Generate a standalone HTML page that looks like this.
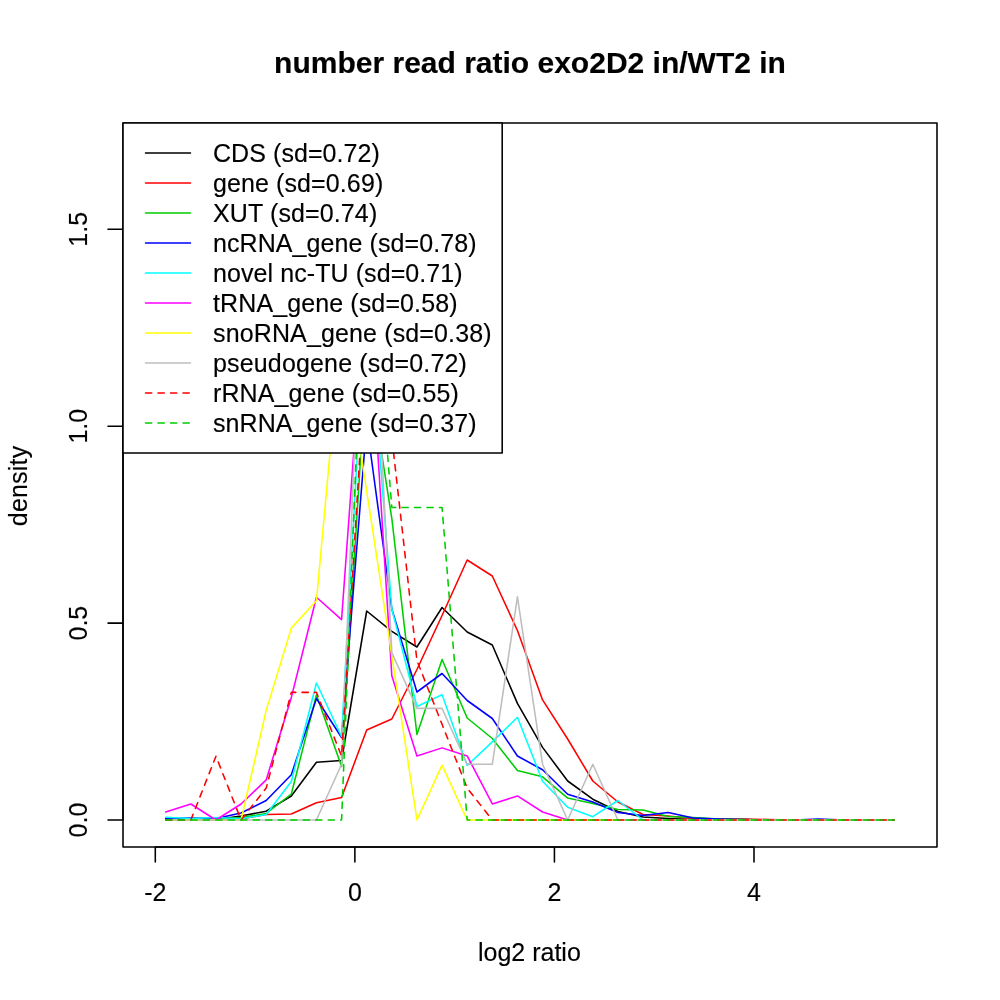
<!DOCTYPE html>
<html><head><meta charset="utf-8"><title>plot</title>
<style>html,body{margin:0;padding:0;background:#fff;}svg{display:block;will-change:transform;}text{font-family:"Liberation Sans",sans-serif;fill:#000;stroke:#000;stroke-width:0.15px;}</style>
</head><body>
<svg width="1000" height="1000" viewBox="0 0 1000 1000">
<rect x="0" y="0" width="1000" height="1000" fill="#ffffff"/>
<defs><clipPath id="pc"><rect x="123.0" y="123.0" width="814.0" height="724.0"/></clipPath></defs>
<g clip-path="url(#pc)" fill="none" stroke-width="1.56" stroke-linecap="round" stroke-linejoin="round">
<polyline points="165.71,819.50 190.83,819.50 215.96,819.50 241.08,816.00 266.20,811.20 291.33,796.00 316.45,762.20 341.57,760.50 366.69,611.00 391.82,631.30 416.94,647.00 442.06,607.50 467.19,632.00 492.31,645.00 517.43,703.40 542.56,747.40 567.68,781.00 592.80,799.20 617.92,811.50 643.05,817.00 668.17,818.50 693.29,819.50 718.42,820.00 743.54,820.00 768.66,820.00 793.79,820.00 818.91,820.00 844.03,820.00 869.15,820.00 894.28,820.00" stroke="#000000"/>
<polyline points="165.71,820.00 190.83,820.00 215.96,819.80 241.08,819.00 266.20,814.50 291.33,814.00 316.45,802.80 341.57,797.50 366.69,730.00 391.82,719.00 416.94,669.50 442.06,615.50 467.19,560.00 492.31,576.00 517.43,630.50 542.56,699.90 567.68,739.00 592.80,781.00 617.92,802.00 643.05,814.50 668.17,816.00 693.29,818.50 718.42,819.00 743.54,819.00 768.66,819.50 793.79,820.00 818.91,820.00 844.03,820.00 869.15,820.00 894.28,820.00" stroke="#FF0000"/>
<polyline points="165.71,819.50 190.83,819.50 215.96,819.50 241.08,817.50 266.20,813.50 291.33,794.00 316.45,695.00 341.57,766.50 366.69,358.00 391.82,518.50 416.94,734.50 442.06,659.50 467.19,718.00 492.31,738.50 517.43,770.50 542.56,776.80 567.68,798.10 592.80,803.40 617.92,809.50 643.05,810.00 668.17,816.50 693.29,817.50 718.42,819.00 743.54,819.50 768.66,820.00 793.79,820.00 818.91,820.00 844.03,820.00 869.15,820.00 894.28,820.00" stroke="#00CD00"/>
<polyline points="165.71,818.50 190.83,818.00 215.96,818.50 241.08,813.00 266.20,800.50 291.33,774.70 316.45,698.50 341.57,737.50 366.69,424.00 391.82,609.00 416.94,692.00 442.06,673.50 467.19,700.50 492.31,718.50 517.43,756.00 542.56,769.80 567.68,794.30 592.80,802.00 617.92,812.50 643.05,815.50 668.17,812.50 693.29,818.00 718.42,819.00 743.54,819.50 768.66,820.00 793.79,820.00 818.91,819.00 844.03,820.00 869.15,820.00 894.28,820.00" stroke="#0000FF"/>
<polyline points="165.71,817.20 190.83,818.50 215.96,817.50 241.08,818.80 266.20,814.50 291.33,781.50 316.45,683.00 341.57,736.50 366.69,286.00 391.82,609.00 416.94,706.50 442.06,694.80 467.19,765.50 492.31,741.90 517.43,717.30 542.56,781.30 567.68,807.30 592.80,816.70 617.92,800.50 643.05,820.00 668.17,820.00 693.29,820.00 718.42,820.00 743.54,820.00 768.66,820.00 793.79,820.00 818.91,820.00 844.03,820.00 869.15,820.00 894.28,820.00" stroke="#00FFFF"/>
<polyline points="165.71,811.99 190.83,803.97 215.96,820.00 241.08,803.97 266.20,779.93 291.33,697.40 316.45,597.24 341.57,619.67 366.69,275.12 391.82,675.77 416.94,755.90 442.06,747.88 467.19,755.90 492.31,803.97 517.43,795.96 542.56,811.99 567.68,820.00 592.80,820.00 617.92,820.00 643.05,820.00 668.17,820.00 693.29,820.00 718.42,820.00 743.54,820.00 768.66,820.00 793.79,820.00 818.91,820.00 844.03,820.00 869.15,820.00 894.28,820.00" stroke="#FF00FF"/>
<polyline points="165.71,820.00 190.83,820.00 215.96,820.00 241.08,820.00 266.20,710.36 291.33,628.13 316.45,600.72 341.57,326.62 366.69,491.08 391.82,655.54 416.94,820.00 442.06,765.18 467.19,820.00 492.31,820.00 517.43,820.00 542.56,820.00 567.68,820.00 592.80,820.00 617.92,820.00 643.05,820.00 668.17,820.00 693.29,820.00 718.42,820.00 743.54,820.00 768.66,820.00 793.79,820.00 818.91,820.00 844.03,820.00 869.15,820.00 894.28,820.00" stroke="#FFFF00"/>
<polyline points="165.71,820.00 190.83,820.00 215.96,820.00 241.08,820.00 266.20,820.00 291.33,820.00 316.45,820.00 341.57,764.20 366.69,150.40 391.82,652.60 416.94,708.40 442.06,708.40 467.19,764.20 492.31,764.20 517.43,596.80 542.56,764.20 567.68,820.00 592.80,764.20 617.92,820.00 643.05,820.00 668.17,820.00 693.29,820.00 718.42,820.00 743.54,820.00 768.66,820.00 793.79,820.00 818.91,820.00 844.03,820.00 869.15,820.00 894.28,820.00" stroke="#BEBEBE"/>
<polyline points="165.71,820.00 190.83,820.00 215.96,756.20 241.08,820.00 266.20,788.10 291.33,692.40 316.45,692.40 341.57,756.20 366.69,341.50 391.82,437.20 416.94,660.50 442.06,724.30 467.19,788.10 492.31,820.00 517.43,820.00 542.56,820.00 567.68,820.00 592.80,820.00 617.92,820.00 643.05,820.00 668.17,820.00 693.29,820.00 718.42,820.00 743.54,820.00 768.66,820.00 793.79,820.00 818.91,820.00 844.03,820.00 869.15,820.00 894.28,820.00" stroke="#FF0000" stroke-dasharray="6.25 6.25"/>
<polyline points="165.71,820.00 190.83,820.00 215.96,820.00 241.08,820.00 266.20,820.00 291.33,820.00 316.45,820.00 341.57,820.00 366.69,195.00 391.82,507.50 416.94,507.50 442.06,507.50 467.19,820.00 492.31,820.00 517.43,820.00 542.56,820.00 567.68,820.00 592.80,820.00 617.92,820.00 643.05,820.00 668.17,820.00 693.29,820.00 718.42,820.00 743.54,820.00 768.66,820.00 793.79,820.00 818.91,820.00 844.03,820.00 869.15,820.00 894.28,820.00" stroke="#00CD00" stroke-dasharray="6.25 6.25"/>
</g>
<g fill="none" stroke="#000" stroke-width="1.56" stroke-linecap="round" stroke-linejoin="round">
<rect x="123.0" y="123.0" width="814.0" height="724.0"/>
<path d="M155.3 847.0H754.0M155.3 847.0V862.0M354.87 847.0V862.0M554.43 847.0V862.0M754.0 847.0V862.0"/>
<path d="M123.0 820.0V229.3M123.0 820.0H108.0M123.0 623.1H108.0M123.0 426.2H108.0M123.0 229.3H108.0"/>
</g>
<text x="155.3" y="900.7" font-size="25" text-anchor="middle">-2</text>
<text x="354.87" y="900.7" font-size="25" text-anchor="middle">0</text>
<text x="554.43" y="900.7" font-size="25" text-anchor="middle">2</text>
<text x="754.0" y="900.7" font-size="25" text-anchor="middle">4</text>
<text transform="translate(87,820.0) rotate(-90)" font-size="25" text-anchor="middle">0.0</text>
<text transform="translate(87,623.1) rotate(-90)" font-size="25" text-anchor="middle">0.5</text>
<text transform="translate(87,426.2) rotate(-90)" font-size="25" text-anchor="middle">1.0</text>
<text transform="translate(87,229.3) rotate(-90)" font-size="25" text-anchor="middle">1.5</text>
<text x="530.0" y="72.7" font-size="30" font-weight="bold" text-anchor="middle">number read ratio exo2D2 in/WT2 in</text>
<text x="529.4" y="960.6" font-size="25" text-anchor="middle">log2 ratio</text>
<text transform="translate(27,486.0) rotate(-90)" font-size="25" text-anchor="middle" textLength="80.4" lengthAdjust="spacing">density</text>
<rect x="123.0" y="123.0" width="379.2" height="330.0" fill="#fff" stroke="#000" stroke-width="1.56" stroke-linejoin="round"/>
<line x1="145.5" y1="153.0" x2="190.5" y2="153.0" stroke="#000000" stroke-width="1.56" stroke-linecap="round"/>
<text x="213" y="162.0" font-size="25" textLength="166.85" lengthAdjust="spacing">CDS (sd=0.72)</text>
<line x1="145.5" y1="183.0" x2="190.5" y2="183.0" stroke="#FF0000" stroke-width="1.56" stroke-linecap="round"/>
<text x="213" y="192.0" font-size="25" textLength="170.21" lengthAdjust="spacing">gene (sd=0.69)</text>
<line x1="145.5" y1="213.0" x2="190.5" y2="213.0" stroke="#00CD00" stroke-width="1.56" stroke-linecap="round"/>
<text x="213" y="222.0" font-size="25" textLength="164.21" lengthAdjust="spacing">XUT (sd=0.74)</text>
<line x1="145.5" y1="243.0" x2="190.5" y2="243.0" stroke="#0000FF" stroke-width="1.56" stroke-linecap="round"/>
<text x="213" y="252.0" font-size="25" textLength="263.48" lengthAdjust="spacing">ncRNA_gene (sd=0.78)</text>
<line x1="145.5" y1="273.0" x2="190.5" y2="273.0" stroke="#00FFFF" stroke-width="1.56" stroke-linecap="round"/>
<text x="213" y="282.0" font-size="25" textLength="249.65" lengthAdjust="spacing">novel nc-TU (sd=0.71)</text>
<line x1="145.5" y1="303.0" x2="190.5" y2="303.0" stroke="#FF00FF" stroke-width="1.56" stroke-linecap="round"/>
<text x="213" y="312.0" font-size="25" textLength="244.53" lengthAdjust="spacing">tRNA_gene (sd=0.58)</text>
<line x1="145.5" y1="333.0" x2="190.5" y2="333.0" stroke="#FFFF00" stroke-width="1.56" stroke-linecap="round"/>
<text x="213" y="342.0" font-size="25" textLength="278.59" lengthAdjust="spacing">snoRNA_gene (sd=0.38)</text>
<line x1="145.5" y1="363.0" x2="190.5" y2="363.0" stroke="#BEBEBE" stroke-width="1.56" stroke-linecap="round"/>
<text x="213" y="372.0" font-size="25" textLength="253.94" lengthAdjust="spacing">pseudogene (sd=0.72)</text>
<line x1="145.5" y1="393.0" x2="190.5" y2="393.0" stroke="#FF0000" stroke-width="1.56" stroke-linecap="round" stroke-dasharray="6.25 6.25"/>
<text x="213" y="402.0" font-size="25" textLength="245.91" lengthAdjust="spacing">rRNA_gene (sd=0.55)</text>
<line x1="145.5" y1="423.0" x2="190.5" y2="423.0" stroke="#00CD00" stroke-width="1.56" stroke-linecap="round" stroke-dasharray="6.25 6.25"/>
<text x="213" y="432.0" font-size="25" textLength="263.48" lengthAdjust="spacing">snRNA_gene (sd=0.37)</text>
</svg></body></html>
